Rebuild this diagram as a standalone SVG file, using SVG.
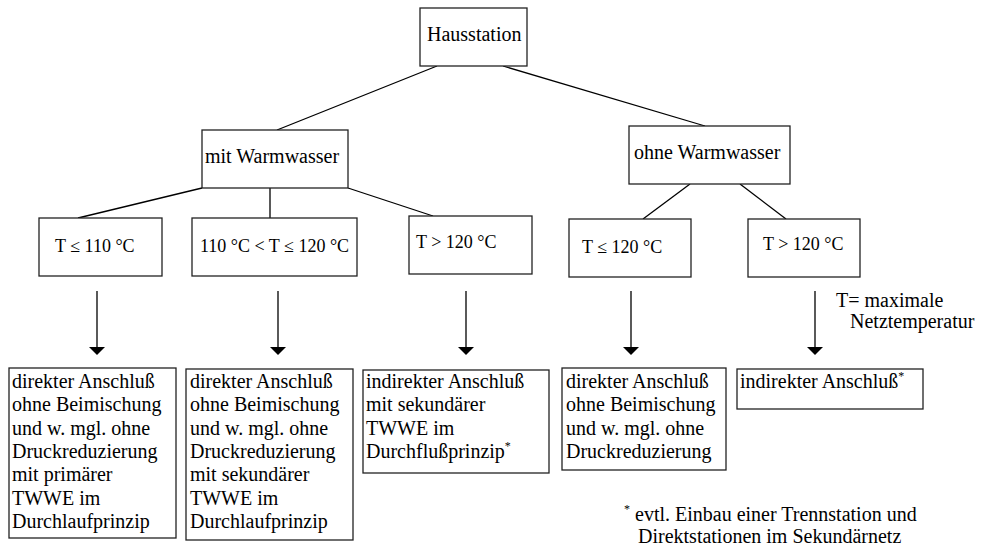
<svg xmlns="http://www.w3.org/2000/svg" width="989" height="549" viewBox="0 0 989 549" font-family="'Liberation Serif', Tinos, 'Times New Roman', 'DejaVu Serif', serif">
<style>
  .box { fill: #fff; stroke: #222; stroke-width: 1.3; }
  .t { font-family: 'Liberation Serif', Tinos, 'Times New Roman', 'DejaVu Serif', serif; font-size: 20px; fill: #000; }
  .tl { font-family: 'Liberation Serif', Tinos, 'Times New Roman', 'DejaVu Serif', serif; font-size: 18px; fill: #000; }
  .sup { font-size: 12px; }
  .ln { stroke: #000; stroke-width: 1.3; fill: none; }
  .ah { fill: #000; }
</style>
<rect width="989" height="549" fill="#fff"/>
<g id="connectors">
  <line class="ln" x1="437" y1="66" x2="277" y2="130"/>
  <line class="ln" x1="503" y1="66" x2="705" y2="126"/>
  <line class="ln" x1="202" y1="188" x2="78" y2="218"/>
  <line class="ln" x1="270" y1="188" x2="270" y2="218"/>
  <line class="ln" x1="348" y1="188" x2="433" y2="216"/>
  <line class="ln" x1="690" y1="184" x2="643" y2="219"/>
  <line class="ln" x1="740" y1="184" x2="786" y2="219"/>
  <line class="ln" x1="97" y1="291" x2="97" y2="347"/>
  <path class="ah" d="M89,347 L105,347 L97,355 Z"/>
  <line class="ln" x1="278" y1="291" x2="278" y2="347"/>
  <path class="ah" d="M270,347 L286,347 L278,355 Z"/>
  <line class="ln" x1="466" y1="291" x2="466" y2="347"/>
  <path class="ah" d="M458,347 L474,347 L466,355 Z"/>
  <line class="ln" x1="631" y1="291" x2="631" y2="347"/>
  <path class="ah" d="M623,347 L639,347 L631,355 Z"/>
  <line class="ln" x1="815" y1="291" x2="815" y2="347"/>
  <path class="ah" d="M807,347 L823,347 L815,355 Z"/>
</g>
<g id="hausstation">
  <rect class="box" x="420" y="8" width="107" height="58"/>
  <text class="t" x="427" y="41">Hausstation</text>
</g>
<g id="mit-warmwasser">
  <rect class="box" x="202" y="130" width="146" height="58"/>
  <text class="t" x="205" y="163">mit Warmwasser</text>
</g>
<g id="ohne-warmwasser">
  <rect class="box" x="629" y="126" width="161" height="58"/>
  <text class="t" x="634" y="159">ohne Warmwasser</text>
</g>
<g id="t-le-110">
  <rect class="box" x="39" y="218" width="123" height="58"/>
  <text class="tl" x="55" y="252">T ≤ 110 °C</text>
</g>
<g id="t-110-120">
  <rect class="box" x="192" y="218" width="165" height="58"/>
  <text class="tl" x="200" y="252">110 °C &lt; T ≤ 120 °C</text>
</g>
<g id="t-gt-120-a">
  <rect class="box" x="409" y="216" width="123" height="58"/>
  <text class="tl" x="416" y="248">T &gt; 120 °C</text>
</g>
<g id="t-le-120">
  <rect class="box" x="569" y="219" width="122" height="58"/>
  <text class="tl" x="582" y="253">T ≤ 120 °C</text>
</g>
<g id="t-gt-120-b">
  <rect class="box" x="748" y="219" width="112" height="58"/>
  <text class="tl" x="763" y="250">T &gt; 120 °C</text>
</g>
<g id="note-t">
  <text class="t" x="836" y="307">T= maximale</text>
  <text class="t" x="850" y="328">Netztemperatur</text>
</g>
<g id="result-1">
  <rect class="box" x="9" y="368" width="167" height="170"/>
  <text class="t" x="12" y="388">direkter Anschluß</text>
  <text class="t" x="12" y="411.3">ohne Beimischung</text>
  <text class="t" x="12" y="434.6">und w. mgl. ohne</text>
  <text class="t" x="12" y="457.9">Druckreduzierung</text>
  <text class="t" x="12" y="481.2">mit primärer</text>
  <text class="t" x="12" y="504.5">TWWE im</text>
  <text class="t" x="12" y="527.8">Durchlaufprinzip</text>
</g>
<g id="result-2">
  <rect class="box" x="186" y="369" width="167" height="171"/>
  <text class="t" x="190" y="388">direkter Anschluß</text>
  <text class="t" x="190" y="411.3">ohne Beimischung</text>
  <text class="t" x="190" y="434.6">und w. mgl. ohne</text>
  <text class="t" x="190" y="457.9">Druckreduzierung</text>
  <text class="t" x="190" y="481.2">mit sekundärer</text>
  <text class="t" x="190" y="504.5">TWWE im</text>
  <text class="t" x="190" y="527.8">Durchlaufprinzip</text>
</g>
<g id="result-3">
  <rect class="box" x="363" y="370" width="186" height="103"/>
  <text class="t" x="366" y="388">indirekter Anschluß</text>
  <text class="t" x="366" y="411.3">mit sekundärer</text>
  <text class="t" x="366" y="434.6">TWWE im</text>
  <text class="t" x="366" y="457.9">Durchflußprinzip<tspan class="sup" dy="-8">*</tspan></text>
</g>
<g id="result-4">
  <rect class="box" x="562" y="368" width="164" height="102"/>
  <text class="t" x="566" y="388">direkter Anschluß</text>
  <text class="t" x="566" y="411.3">ohne Beimischung</text>
  <text class="t" x="566" y="434.6">und w. mgl. ohne</text>
  <text class="t" x="566" y="457.9">Druckreduzierung</text>
</g>
<g id="result-5">
  <rect class="box" x="737" y="369" width="186" height="40"/>
  <text class="t" x="740" y="388">indirekter Anschluß<tspan class="sup" dy="-8">*</tspan></text>
</g>
<g id="footnote">
  <text class="t" x="624" y="521"><tspan class="sup" dy="-8">*</tspan><tspan dy="8"> evtl. Einbau einer Trennstation und</tspan></text>
  <text class="t" x="638" y="543">Direktstationen im Sekundärnetz</text>
</g>
</svg>
